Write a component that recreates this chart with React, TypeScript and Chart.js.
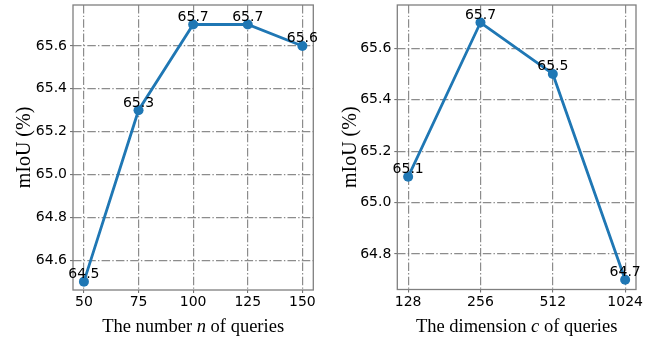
import React, { useEffect, useRef } from "react";
import { Chart, registerables } from "chart.js";
Chart.register(...registerables);

// ---- data ----
const queryCounts = [50, 75, 100, 125, 150];
const miouByCount = [64.5, 65.3, 65.7, 65.7, 65.6];
const queryDims = ["128", "256", "512", "1024"];
const miouByDim = [65.1, 65.7, 65.5, 64.7];
const yAxisTitle = "mIoU (%)";
const xTitleCount = ["The number ", "n", " of queries"];
const xTitleDim = ["The dimension ", "c", " of queries"];

const BLUE = "#1f77b4";
const SANS = "'DejaVu Sans', sans-serif";
const SERIF = "'Liberation Serif', 'Times New Roman', serif";
const TICK_SIZE = 14;

type PanelSpec = {
  points: { x: number; y: number }[];
  labels: number[];
  xMin: number;
  xMax: number;
  xStep: number;
  xTickLabel: (v: number) => string;
  yMin: number;
  yMax: number;
  yWidth: number;
  xHeight: number;
  pad: { top: number; right: number };
  titleParts: string[];
};

function makePlugins(spec: PanelSpec) {
  const frame = {
    id: "frame",
    beforeDatasetsDraw(chart: any) {
      const { ctx, chartArea: a } = chart;
      ctx.save();
      ctx.strokeStyle = "#7f7f7f";
      ctx.lineWidth = 1.3;
      ctx.strokeRect(a.left, a.top, a.right - a.left, a.bottom - a.top);
      ctx.restore();
    },
  };
  const valueLabels = {
    id: "valueLabels",
    afterDatasetsDraw(chart: any) {
      const { ctx } = chart;
      const meta = chart.getDatasetMeta(0);
      ctx.save();
      ctx.font = `${TICK_SIZE}px ${SANS}`;
      ctx.fillStyle = "#000";
      ctx.textAlign = "center";
      ctx.textBaseline = "alphabetic";
      meta.data.forEach((el: any, i: number) => {
        ctx.fillText(spec.labels[i].toFixed(1), el.x, el.y - 3.5);
      });
      ctx.restore();
    },
  };
  const xTitle = {
    id: "xTitle",
    afterDraw(chart: any) {
      const { ctx, chartArea: a } = chart;
      ctx.save();
      ctx.fillStyle = "#000";
      ctx.textBaseline = "alphabetic";
      ctx.textAlign = "left";
      const fonts = spec.titleParts.map((_, i) =>
        i === 1 ? `italic 18.5px ${SERIF}` : `18.5px ${SERIF}`
      );
      let total = 0;
      const widths = spec.titleParts.map((t, i) => {
        ctx.font = fonts[i];
        const w = ctx.measureText(t).width;
        total += w;
        return w;
      });
      let x = (a.left + a.right) / 2 - total / 2;
      spec.titleParts.forEach((t, i) => {
        ctx.font = fonts[i];
        ctx.fillText(t, x, 332);
        x += widths[i];
      });
      ctx.restore();
    },
  };
  return [frame, valueLabels, xTitle];
}

function Panel({ spec, left }: { spec: PanelSpec; left: number }) {
  const ref = useRef<HTMLCanvasElement>(null);
  useEffect(() => {
    if (!ref.current) return;
    const gridCommon = {
      color: "rgba(128,128,128,0.9)",
      lineWidth: 1.2,
      tickColor: "#666",
      tickWidth: 1,
      tickLength: 3,
    };
    const chart = new Chart(ref.current, {
      type: "line",
      data: {
        datasets: [
          {
            data: spec.points,
            borderColor: BLUE,
            backgroundColor: BLUE,
            borderWidth: 2.8,
            pointRadius: 5,
            pointHoverRadius: 5,
            pointBackgroundColor: BLUE,
            pointBorderColor: BLUE,
            pointBorderWidth: 0,
            tension: 0,
            fill: false,
          },
        ],
      },
      plugins: makePlugins(spec),
      options: {
        animation: false,
        responsive: false,
        events: [],
        layout: { padding: { top: spec.pad.top, right: spec.pad.right, left: 0, bottom: 0 } },
        plugins: { legend: { display: false }, tooltip: { enabled: false } },
        scales: {
          x: {
            type: "linear",
            min: spec.xMin,
            max: spec.xMax,
            grid: gridCommon,
            border: { display: false, dash: [8.5, 2.2, 1.4, 2.2] },
            ticks: {
              stepSize: spec.xStep,
              includeBounds: false,
              maxRotation: 0,
              autoSkip: false,
              padding: 1,
              color: "#000",
              font: { family: SANS, size: TICK_SIZE },
              callback: (v: any) => spec.xTickLabel(Number(v)),
            },
            afterFit: (s: any) => {
              s.height = spec.xHeight;
              s.paddingLeft = 0;
              s.paddingRight = 0;
            },
          },
          y: {
            type: "linear",
            min: spec.yMin,
            max: spec.yMax,
            grid: gridCommon,
            border: { display: false, dash: [8.5, 2.2, 1.4, 2.2] },
            title: {
              display: true,
              text: yAxisTitle,
              color: "#000",
              font: { family: SERIF, size: 20 },
              padding: { top: 13, bottom: 0 },
            },
            ticks: {
              stepSize: 0.2,
              includeBounds: false,
              padding: 3,
              color: "#000",
              font: { family: SANS, size: TICK_SIZE },
              callback: (v: any) => Number(v).toFixed(1),
            },
            afterFit: (s: any) => {
              s.width = spec.yWidth;
              s.paddingTop = 0;
              s.paddingBottom = 0;
            },
          },
        },
      } as any,
    });
    return () => chart.destroy();
  }, [spec]);
  return (
    <canvas
      ref={ref}
      width={326}
      height={339}
      style={{ position: "absolute", left, top: 0, width: 326, height: 339, display: "block" }}
    />
  );
}

const leftSpec: PanelSpec = {
  points: queryCounts.map((x, i) => ({ x, y: miouByCount[i] })),
  labels: miouByCount,
  xMin: 45,
  xMax: 155,
  xStep: 25,
  xTickLabel: (v) => String(v),
  yMin: 64.461,
  yMax: 65.791,
  yWidth: 73,
  xHeight: 49,
  pad: { top: 4.7, right: 12.7 },
  titleParts: xTitleCount,
};

const rightSpec: PanelSpec = {
  points: queryDims.map((_, i) => ({ x: i, y: miouByDim[i] })),
  labels: miouByDim,
  xMin: -0.15,
  xMax: 3.15,
  xStep: 1,
  xTickLabel: (v) => queryDims[Math.round(v)] ?? "",
  yMin: 64.662,
  yMax: 65.768,
  yWidth: 71.3,
  xHeight: 49.5,
  pad: { top: 5, right: 16 },
  titleParts: xTitleDim,
};

export default function App() {
  return (
    <div
      style={{
        position: "fixed",
        left: 0,
        top: 0,
        width: 652,
        height: 339,
        background: "#fff",
        overflow: "hidden",
      }}
    >
      <Panel spec={leftSpec} left={0} />
      <Panel spec={rightSpec} left={326} />
    </div>
  );
}
